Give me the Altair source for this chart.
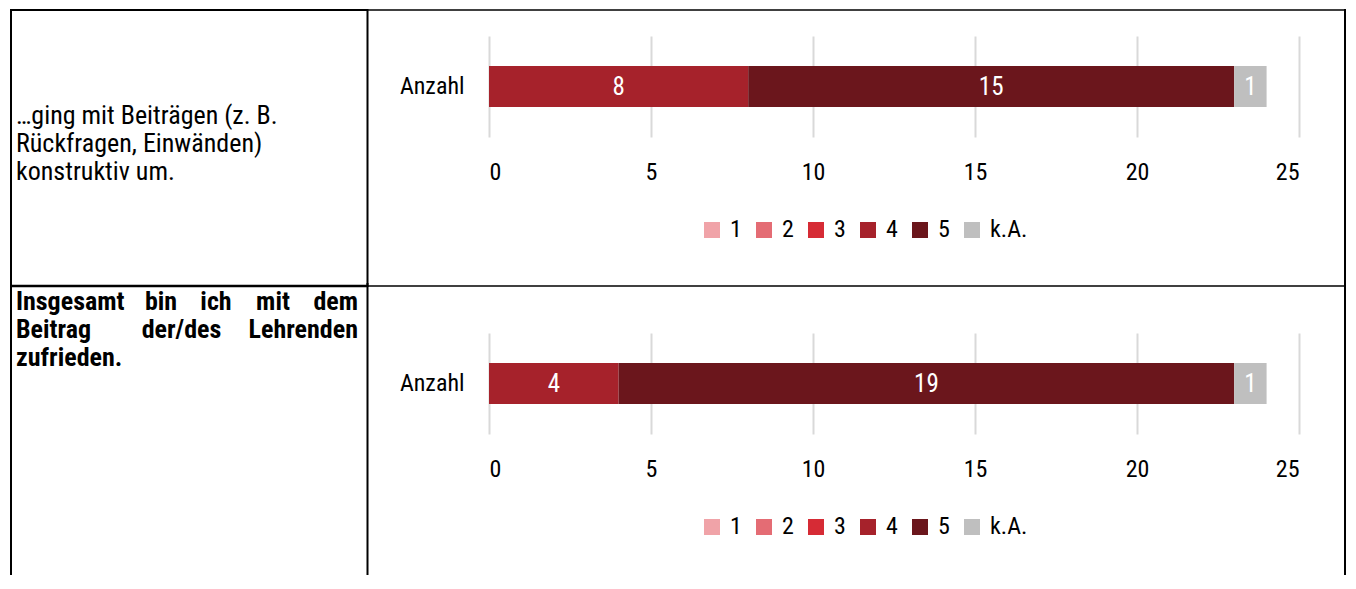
import altair as alt
import pandas as pd

# ---------------- data ----------------
categories = ["1", "2", "3", "4", "5", "k.A."]
palette = ["#F0A3A8", "#E46C74", "#D62B35", "#A6222B", "#6B161C", "#BFBFBF"]
counts_q1 = [0, 0, 0, 8, 15, 1]
counts_q2 = [0, 0, 0, 4, 19, 1]
bar_label = "Anzahl"
x_ticks = [0, 5, 10, 15, 20, 25]
q1_lines = ["…ging mit Beiträgen (z. B.", "Rückfragen, Einwänden)", "konstruktiv um."]
q2_lines = [["Insgesamt", "bin", "ich", "mit", "dem"],
            ["Beitrag", "der/des", "Lehrenden"],
            ["zufrieden."]]

# ---------------- layout ----------------
FONT = "Roboto Condensed, Liberation Sans Narrow, DejaVu Sans Condensed, sans-serif"
PLOT_X = 489
PLOT_W = 810
PLOT_H = 101
ROW1_Y = 37
ROW2_Y = 336
LEFT_X = 11
MID_X = 367.5
RIGHT_X = 1345
TOP_Y = 11
DIV_Y = 287
BOTTOM_Y = 577
BLANK = alt.Data(values=[{}])


def hrule(x1, x2, y, w, ox, oy):
    return alt.Chart(BLANK).mark_rule(color="black", strokeWidth=w).encode(
        x=alt.value(x1 - ox), x2=alt.value(x2 - ox), y=alt.value(y - oy))


def vrule(x, y1, y2, w, ox, oy):
    return alt.Chart(BLANK).mark_rule(color="black", strokeWidth=w, strokeCap="square").encode(
        x=alt.value(x - ox), y=alt.value(y1 - oy), y2=alt.value(y2 - oy))


def word(txt, x, y, align, bold, ox, oy):
    return alt.Chart(BLANK).mark_text(
        font=FONT, fontSize=26, fontWeight="bold" if bold else "normal",
        align=align, baseline="middle", color="black").encode(
        x=alt.value(x - ox), y=alt.value(y - oy), text=alt.value(txt))


def bar_layers(counts):
    df = pd.DataFrame({"Kategorie": categories, "Anzahl": counts,
                       "ord": list(range(len(categories))), "Zeile": bar_label})
    xs = alt.Scale(domain=[0, 25], nice=False, zero=True)
    x_axis = alt.Axis(values=x_ticks, title=None, domain=False, ticks=False,
                      grid=True, gridColor="#D9D9D9", gridWidth=2,
                      labelFont=FONT, labelFontSize=24, labelColor="black",
                      labelPadding=23)
    y_axis = alt.Axis(title=None, domain=False, ticks=False, grid=False, labelFont=FONT,
                      labelFontSize=24, labelColor="black", labelPadding=25)
    base = alt.Chart(df)
    bars = base.mark_bar(size=41).encode(
        x=alt.X("Anzahl:Q", stack="zero", scale=xs, axis=x_axis),
        y=alt.Y("Zeile:N", axis=y_axis),
        color=alt.Color("Kategorie:N",
                        scale=alt.Scale(domain=categories, range=palette),
                        legend=alt.Legend(title=None, orient="none", legendX=211, legendY=182,
                                          direction="horizontal", symbolType="square",
                                          symbolSize=256, symbolStrokeWidth=0,
                                          labelFont=FONT, labelFontSize=24,
                                          labelColor="black", labelOffset=6,
                                          columnPadding=10, padding=0)),
        order=alt.Order("ord:Q"),
    )
    labels = base.transform_filter("datum.Anzahl > 0").transform_stack(
        stack="Anzahl", groupby=["Zeile"], sort=[alt.SortField("ord")], as_=["x0", "x1"]
    ).transform_calculate(mid="(datum.x0 + datum.x1) / 2").mark_text(
        font=FONT, fontSize=25, color="white", baseline="middle").encode(
        x=alt.X("mid:Q", scale=xs, axis=x_axis),
        y=alt.Y("Zeile:N", axis=y_axis),
        text="Anzahl:Q",
    )
    return [bars, labels]


# ---------------- row 1 ----------------
ox, oy = PLOT_X, ROW1_Y
row1_layers = bar_layers(counts_q1)
row1_layers += [
    hrule(LEFT_X - 1, MID_X, TOP_Y, 2, ox, oy),
    hrule(MID_X, RIGHT_X + 1, TOP_Y, 1.5, ox, oy),
    hrule(LEFT_X - 1, MID_X, DIV_Y, 2.5, ox, oy),
    hrule(MID_X, RIGHT_X + 1, DIV_Y, 1.5, ox, oy),
    vrule(LEFT_X, TOP_Y, DIV_Y, 2, ox, oy),
    vrule(MID_X, TOP_Y, DIV_Y, 2, ox, oy),
    vrule(RIGHT_X, TOP_Y, DIV_Y, 2, ox, oy),
]
for i, line in enumerate(q1_lines):
    row1_layers.append(word(line, 16, 117 + 28 * i, "left", False, ox, oy))
row1 = alt.layer(*row1_layers).properties(width=PLOT_W, height=PLOT_H)

# ---------------- row 2 ----------------
ox, oy = PLOT_X, ROW2_Y
row2_layers = bar_layers(counts_q2)
row2_layers += [
    vrule(LEFT_X, DIV_Y, BOTTOM_Y, 2, ox, oy),
    vrule(MID_X, DIV_Y, BOTTOM_Y, 2, ox, oy),
    vrule(RIGHT_X, DIV_Y, BOTTOM_Y, 2, ox, oy),
]
line_y = [305, 333, 361]
pos1 = [(16, "left"), (161, "center"), (216, "center"), (273, "center"), (358, "right")]
pos2 = [(16, "left"), (181.5, "center"), (358, "right")]
pos3 = [(16, "left")]
for words, pos, yy in zip(q2_lines, [pos1, pos2, pos3], line_y):
    for w, (xx, al) in zip(words, pos):
        row2_layers.append(word(w, xx, yy, al, True, ox, oy))
row2 = alt.layer(*row2_layers).properties(width=PLOT_W, height=PLOT_H)

chart = alt.vconcat(row1, row2, spacing=-6).resolve_scale(
    color="independent").resolve_legend(color="independent").properties(
    padding=0).configure(font=FONT).configure_view(stroke="transparent", strokeWidth=0)

chart.save("out.html", embed_options={"renderer": "svg", "actions": False})
